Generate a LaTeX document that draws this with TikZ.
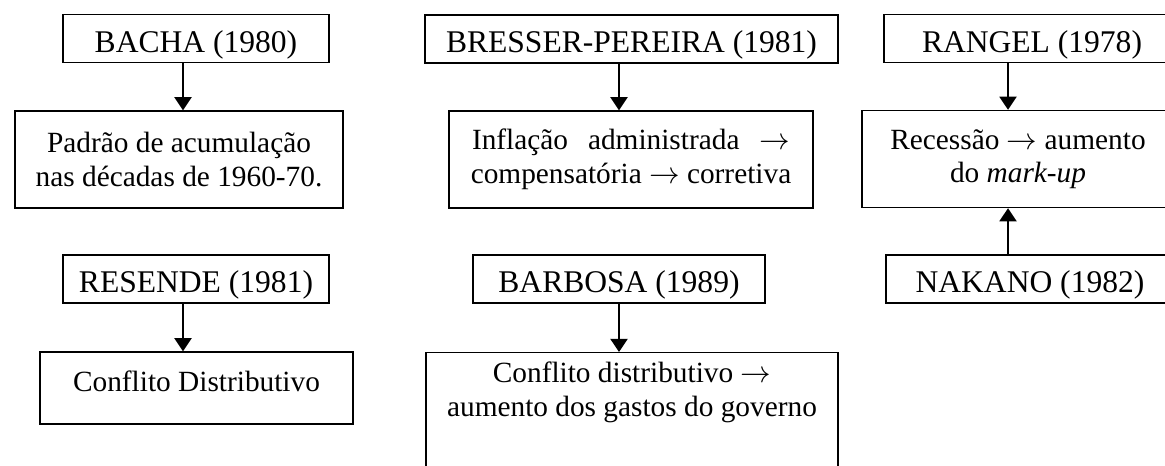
\documentclass[tikz,border=0pt]{standalone}
\usepackage{fontspec}
\setmainfont{Liberation Serif}
\usetikzlibrary{arrows.meta}
\newlength\pxu
\setlength\pxu{0.358pt}
\tikzstyle{author} = [rectangle, draw=black, line width=0.5pt, minimum height=48*\pxu, inner sep=0pt, text height=10pt, text depth=0pt, font=\fontsize{11.3}{12}\selectfont]
\tikzstyle{finding} = [rectangle, draw=black, line width=0.5pt, align=center, minimum height=97*\pxu, font=\fontsize{10.5}{12}\selectfont]
\tikzstyle{arrow} = [line width=0.7pt, -{Triangle[width=6.1pt,length=4.7pt]}]

\begin{document}
\begin{tikzpicture}[x=\pxu, y=-\pxu]
          \useasboundingbox (0,0) rectangle (1165,465); %
          \clip (0,0) rectangle (1165,465); %
          \node (bacha)    [author, minimum width=266*\pxu] at (196,38.5)  {BACHA (1980)\hspace{20\pxu}}; %
          \node (bresser)  [author, minimum width=413*\pxu] at (631.5,39)  {BRESSER-PEREIRA (1981)\hspace{23\pxu}}; %
          \node (rangel)   [author, minimum width=296*\pxu] at (1032,38.5) {RANGEL (1978)}; %
          \node (padrao)   [finding, minimum width=328*\pxu] at (179,159.5) {Padrão de acumulação\\ nas décadas de 1960-70.}; %
          \node (inflacao) [finding, minimum width=364*\pxu] at (631,159.5) {\makebox[318\pxu][s]{Inflação administrada $\rightarrow$}\\ compensatória $\rightarrow$ corretiva}; %
          \node (recessao) [finding, minimum width=312*\pxu] at (1018,159)  {Recessão $\rightarrow$ aumento\\ do \textit{mark-up}}; %
          \node (resende)  [author, minimum width=266*\pxu] at (196,279)   {RESENDE (1981)}; %
          \node (barbosa)  [author, minimum width=292*\pxu] at (619,279)   {BARBOSA (1989)}; %
          \node (nakano)   [author, minimum width=288*\pxu] at (1030,279)  {NAKANO (1982)}; %
          \node (conflito) [finding, minimum width=313*\pxu, minimum height=72*\pxu, text depth=5pt] at (196.5,388) {Conflito Distributivo}; %
          \node (gastos)   [finding, anchor=north, minimum width=412*\pxu, minimum height=0pt, text depth=40pt] at (632,352) {Conflito distributivo $\rightarrow$\\ aumento dos gastos do governo}; %

          %% Connections
          \draw [arrow] (bacha.south -| 183,0)   -- (padrao.north -| 183,0); %
          \draw [arrow] (bresser.south -| 619,0) -- (inflacao.north -| 619,0); %
          \draw [arrow] (rangel.south -| 1008,0) -- (recessao.north -| 1008,0); %
          \draw [arrow] (nakano.north -| 1008,0) -- (recessao.south -| 1008,0); %
          \draw [arrow] (resende.south -| 183,0) -- (conflito.north -| 183,0); %
          \draw [arrow] (barbosa.south)          -- (gastos.north -| barbosa.south); %
        \end{tikzpicture}
\end{document}
